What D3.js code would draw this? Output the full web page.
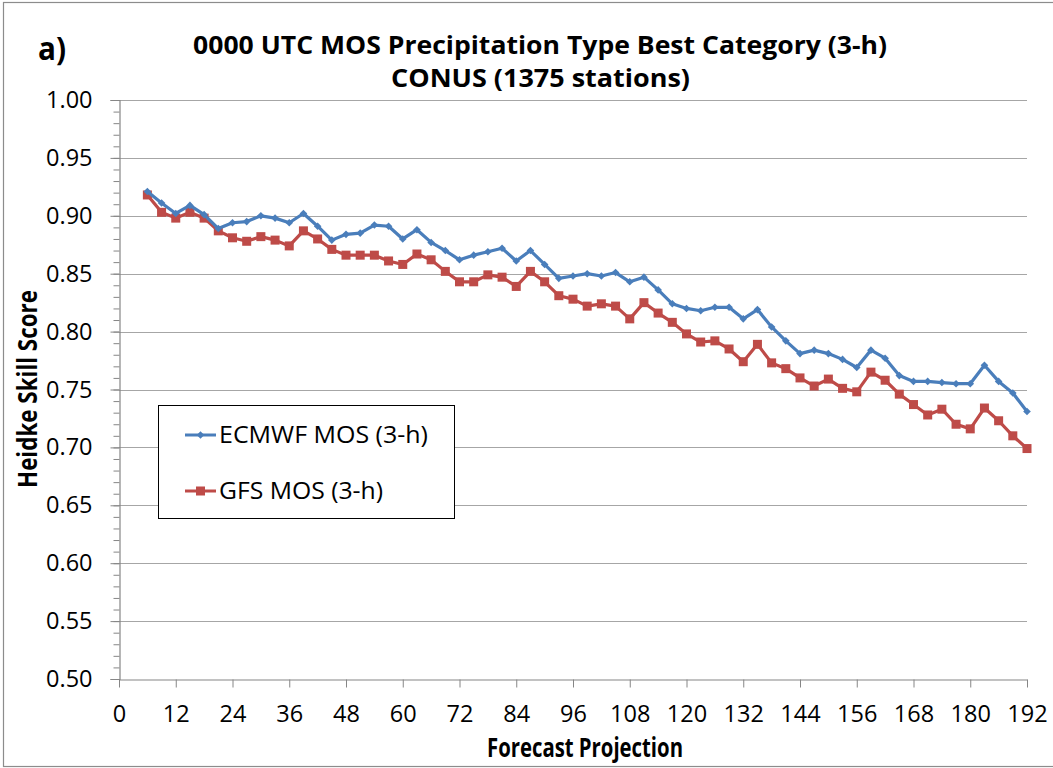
<!DOCTYPE html>
<html>
<head>
<meta charset="utf-8">
<script src="https://cdn.jsdelivr.net/npm/d3@7"></script>
<style>
  body { margin: 0; background: #fff; }
  svg text { font-family: 'Open Sans', 'Liberation Sans', sans-serif; fill: #000; }
</style>
</head>
<body>
<div id="chart"></div>
<script>
// forecast projections (hours)
const hours = [6, 9, 12, 15, 18, 21, 24, 27, 30, 33, 36, 39, 42, 45, 48, 51, 54, 57, 60, 63,
  66, 69, 72, 75, 78, 81, 84, 87, 90, 93, 96, 99, 102, 105, 108, 111, 114, 117, 120, 123,
  126, 129, 132, 135, 138, 141, 144, 147, 150, 153, 156, 159, 162, 165, 168, 171, 174, 177,
  180, 183, 186, 189, 192];

const ecmwfMos = [0.921, 0.911, 0.902, 0.909, 0.901, 0.889, 0.894, 0.895, 0.900, 0.898,
  0.894, 0.902, 0.891, 0.879, 0.884, 0.885, 0.892, 0.891, 0.880, 0.888,
  0.877, 0.870, 0.862, 0.866, 0.869, 0.872, 0.861, 0.870, 0.858, 0.846,
  0.848, 0.850, 0.848, 0.851, 0.843, 0.847, 0.836, 0.824, 0.820, 0.818,
  0.821, 0.821, 0.811, 0.819, 0.804, 0.792, 0.781, 0.784, 0.781, 0.776,
  0.769, 0.784, 0.777, 0.762, 0.757, 0.757, 0.756, 0.755, 0.755, 0.771,
  0.757, 0.747, 0.731];

const gfsMos = [0.918, 0.903, 0.898, 0.903, 0.898, 0.887, 0.881, 0.878, 0.882, 0.879,
  0.874, 0.887, 0.880, 0.871, 0.866, 0.866, 0.866, 0.861, 0.858, 0.867,
  0.862, 0.852, 0.843, 0.843, 0.849, 0.847, 0.839, 0.852, 0.843, 0.831,
  0.828, 0.822, 0.824, 0.822, 0.811, 0.825, 0.816, 0.808, 0.798, 0.791,
  0.792, 0.785, 0.774, 0.789, 0.773, 0.768, 0.760, 0.753, 0.759, 0.751,
  0.748, 0.765, 0.758, 0.746, 0.737, 0.728, 0.733, 0.720, 0.716, 0.734,
  0.723, 0.710, 0.699];

const xTicks = [0, 12, 24, 36, 48, 60, 72, 84, 96, 108, 120, 132, 144, 156, 168, 180, 192];
const yTicks = [0.50, 0.55, 0.60, 0.65, 0.70, 0.75, 0.80, 0.85, 0.90, 0.95, 1.00];
const seriesNames = ['ECMWF MOS (3-h)', 'GFS MOS (3-h)'];

const width = 1053;
const height = 768;
const margin = { top: 100, right: 26, bottom: 89, left: 119 };

const svg = d3.select('#chart')
  .append('svg')
  .attr('width', width)
  .attr('height', height);

// outer chart border
svg.append('rect')
  .attr('x', 3.5)
  .attr('y', 2.5)
  .attr('width', width)
  .attr('height', height - 4)
  .attr('fill', 'none')
  .attr('stroke', '#8c8c8c')
  .attr('stroke-width', 1.2);

const x = d3.scaleLinear([0, 192], [margin.left, width - margin.right]);
const y = d3.scaleLinear([0.5, 1.0], [height - margin.bottom, margin.top]);

// horizontal grid
svg.append('g')
  .selectAll('line')
  .data(yTicks.filter(d => d > 0.5))
  .join('line')
  .attr('x1', x(0))
  .attr('x2', x(192))
  .attr('y1', d => Math.round(y(d)) + 0.5)
  .attr('y2', d => Math.round(y(d)) + 0.5)
  .attr('stroke', '#a6a6a6')
  .attr('stroke-width', 1.2);

// y axis with minor ticks
const yAxis = svg.append('g')
  .attr('transform', `translate(${Math.round(x(0)) + 0.5}, 0)`);

yAxis.append('g')
  .call(d3.axisLeft(y).ticks(50).tickSize(6).tickFormat(''))
  .call(g => g.select('.domain').remove())
  .selectAll('line').attr('stroke', '#868686');

yAxis.append('g')
  .call(d3.axisLeft(y).tickValues(yTicks).tickSize(9).tickPadding(18)
    .tickFormat(d3.format('.2f')))
  .call(g => g.select('.domain').attr('stroke', '#868686').attr('stroke-width', 1.2))
  .call(g => g.selectAll('line').attr('stroke', '#868686'))
  .call(g => g.selectAll('text')
    .attr('font-size', '23.5px')
    .attr('font-family', null)
    .attr('fill', '#000'));

// x axis
svg.append('g')
  .attr('transform', `translate(0, ${Math.round(y(0.5)) + 0.5})`)
  .call(d3.axisBottom(x).tickValues(xTicks).tickSize(8).tickSizeOuter(0).tickPadding(18))
  .call(g => g.select('.domain').attr('stroke', '#868686').attr('stroke-width', 1.2))
  .call(g => g.selectAll('line').attr('stroke', '#868686'))
  .call(g => g.selectAll('text')
    .attr('font-size', '23.5px')
    .attr('font-family', null)
    .attr('fill', '#000'));

// series
const series = [
  { name: seriesNames[0], values: ecmwfMos, color: '#4a7ebb', marker: 'diamond' },
  { name: seriesNames[1], values: gfsMos, color: '#be4b48', marker: 'square' }
];

const line = d3.line()
  .x((d, i) => x(hours[i]))
  .y(d => y(d));

const drawMarker = (g, s, cx, cy) => {
  if (s.marker === 'square') {
    g.append('rect')
      .attr('x', cx - 4.5).attr('y', cy - 4.5)
      .attr('width', 9).attr('height', 9)
      .attr('fill', s.color);
  } else {
    g.append('path')
      .attr('d', `M${cx},${cy - 3.8}L${cx + 3.8},${cy}L${cx},${cy + 3.8}L${cx - 3.8},${cy}Z`)
      .attr('fill', s.color);
  }
};

// GFS drawn first so ECMWF sits on top
series.slice().reverse().forEach(s => {
  const g = svg.append('g');
  g.append('path')
    .datum(s.values)
    .attr('d', line)
    .attr('fill', 'none')
    .attr('stroke', s.color)
    .attr('stroke-width', 3.2)
    .attr('stroke-linejoin', 'round');
  s.values.forEach((v, i) => drawMarker(g, s, x(hours[i]), y(v)));
});

// legend
const legend = svg.append('g');
legend.append('rect')
  .attr('x', 158.5)
  .attr('y', 405.5)
  .attr('width', 296)
  .attr('height', 113)
  .attr('fill', '#fff')
  .attr('stroke', '#000')
  .attr('stroke-width', 1);

const legendLens = [209, 164];
series.forEach((s, i) => {
  const ly = 435 + i * 56;
  const lg = legend.append('g');
  lg.append('line')
    .attr('x1', 185).attr('x2', 216)
    .attr('y1', ly).attr('y2', ly)
    .attr('stroke', s.color)
    .attr('stroke-width', 3);
  drawMarker(lg, s, 200.5, ly);
  lg.append('text')
    .attr('x', 219)
    .attr('y', ly)
    .attr('dy', '0.35em')
    .attr('font-size', '24px')
    .attr('textLength', legendLens[i])
    .attr('lengthAdjust', 'spacingAndGlyphs')
    .text(s.name);
});

// titles
svg.append('text')
  .attr('x', 38)
  .attr('y', 60)
  .attr('font-size', '32px')
  .attr('font-weight', 'bold')
  .attr('textLength', 28)
  .attr('lengthAdjust', 'spacingAndGlyphs')
  .text('a)');

svg.append('text')
  .attr('x', 193)
  .attr('y', 54)
  .attr('font-size', '25px')
  .attr('font-weight', 'bold')
  .attr('textLength', 694)
  .attr('lengthAdjust', 'spacingAndGlyphs')
  .text('0000 UTC MOS Precipitation Type Best Category (3-h)');

svg.append('text')
  .attr('x', 391)
  .attr('y', 87)
  .attr('font-size', '25px')
  .attr('font-weight', 'bold')
  .attr('textLength', 299)
  .attr('lengthAdjust', 'spacingAndGlyphs')
  .text('CONUS (1375 stations)');

svg.append('text')
  .attr('x', 487)
  .attr('y', 757)
  .attr('font-size', '26px')
  .attr('font-weight', 'bold')
  .attr('textLength', 196)
  .attr('lengthAdjust', 'spacingAndGlyphs')
  .text('Forecast Projection');

svg.append('text')
  .attr('transform', 'translate(37, 488) rotate(-90)')
  .attr('font-size', '26px')
  .attr('font-weight', 'bold')
  .attr('textLength', 198)
  .attr('lengthAdjust', 'spacingAndGlyphs')
  .text('Heidke Skill Score');
</script>
</body>
</html>
